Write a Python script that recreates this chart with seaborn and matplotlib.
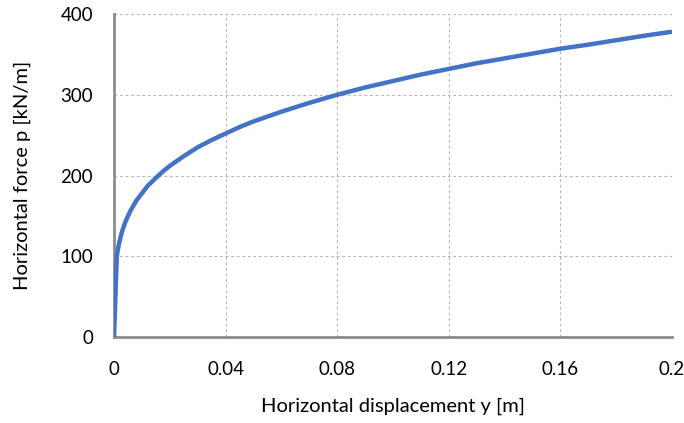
import matplotlib
matplotlib.use("Agg")
import matplotlib.pyplot as plt
import seaborn as sns
import pandas as pd

displacement_m = [0, 0.0005, 0.001, 0.0013, 0.0017, 0.002, 0.0025, 0.003, 0.004, 0.005,
                  0.006, 0.007, 0.008, 0.01, 0.012, 0.015, 0.0175, 0.02, 0.025, 0.03,
                  0.035, 0.04, 0.045, 0.05, 0.06, 0.07, 0.08, 0.09, 0.1, 0.11,
                  0.12, 0.13, 0.14, 0.15, 0.16, 0.17, 0.18, 0.19, 0.2]
force_kNm = [0, 50, 100, 107, 114, 119, 126, 132, 142, 150,
             157, 163, 169, 178, 187, 197, 205, 212, 224, 235,
             244, 252, 260, 267, 279, 290, 300, 309, 317, 325,
             332, 339, 345, 351, 357, 362, 367.5, 373, 378]
x_ticks = [0, 0.04, 0.08, 0.12, 0.16, 0.2]
x_tick_labels = ["0", "0.04", "0.08", "0.12", "0.16", "0.2"]
y_ticks = [0, 100, 200, 300, 400]

df = pd.DataFrame({"y": displacement_m, "p": force_kNm})

sns.set_theme(style="white")
plt.rcParams["font.family"] = ["Lato", "DejaVu Sans"]

fig = plt.figure(figsize=(6.84, 4.23), dpi=100)
ax = fig.add_axes([0.1667, 0.203, 0.8158, 0.764])

sns.lineplot(data=df, x="y", y="p", ax=ax, color="#4472C4", linewidth=3.2,
             solid_capstyle="butt", solid_joinstyle="round", zorder=3)

ax.set_xlim(0, 0.2)
ax.set_ylim(0, 400)
ax.set_xticks(x_ticks)
ax.set_xticklabels(x_tick_labels)
ax.set_yticks(y_ticks)

grid_c = "#b4b4b4"
ax.grid(True, linestyle=(0, (2.5, 2.5)), color=grid_c, linewidth=0.8, zorder=0)
for s in ["top", "right"]:
    ax.spines[s].set_visible(False)
for s in ["left", "bottom"]:
    ax.spines[s].set_color("#8c8c8c")
    ax.spines[s].set_linewidth(2.0)
    ax.spines[s].set_zorder(2)

ax.tick_params(axis="both", which="both", direction="out", length=5, width=1.2,
               color="#8c8c8c", labelsize=13.5, labelcolor="#000000")
ax.tick_params(axis="y", pad=10)
ax.tick_params(axis="x", pad=12)
ax.set_xlabel("Horizontal displacement y [m]", fontsize=14.5, labelpad=14, color="#000000")
ax.set_ylabel("Horizontal force p [kN/m]", fontsize=14.5, labelpad=21, color="#000000")

fig.savefig("out.png", dpi=100)
